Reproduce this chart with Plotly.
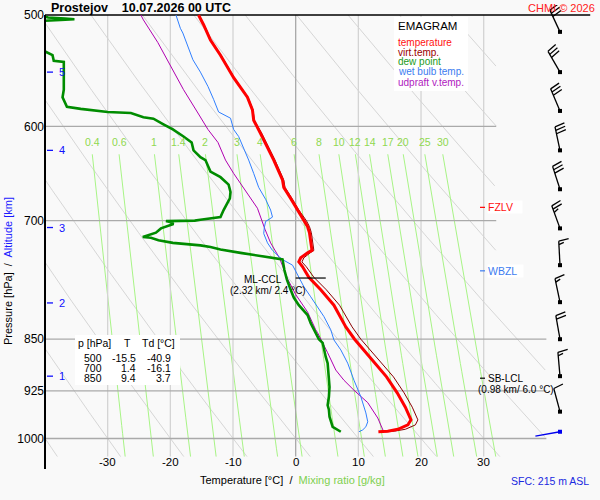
import numpy as np
import plotly.graph_objects as go

# ---- sounding values (p in hPa, temperatures in degC) ----
t_p = [500, 508, 521, 534, 554, 572, 584, 594, 607, 621, 634, 655, 663, 675, 688, 700,
       707, 714, 726, 735, 738, 744, 749, 755, 768, 784, 804, 833, 850, 879, 904, 928,
       950, 970, 978, 985, 988, 989]
t_val = [-15.5, -14.7, -13.6, -12.0, -9.9, -7.7, -6.9, -6.7, -5.6, -4.5, -3.5, -2.1, -1.9,
         -0.8, 0.3, 1.4, 1.9, 2.2, 2.4, 2.6, 1.9, 0.8, 0.5, 1.1, 2.1, 4.0, 6.1, 8.0, 9.4,
         12.2, 14.5, 16.2, 17.5, 18.4, 17.9, 16.3, 14.7, 13.2]
tv_val = [-15.4, -14.6, -13.5, -11.9, -9.8, -7.6, -6.8, -6.6, -5.4, -4.3, -3.3, -1.9, -1.7,
          -0.6, 0.5, 1.7, 2.2, 2.5, 2.7, 2.9, 2.3, 1.3, 1.0, 1.7, 2.9, 4.9, 7.0, 9.0, 10.4,
          13.2, 15.6, 17.3, 18.6, 19.5, 19.1, 17.5, 15.8, 14.3]

td_p = [500, 502, 503, 503.5, 504, 506, 515, 527, 531, 534, 539, 540, 565, 572, 581, 583,
        586, 587, 591, 592.5, 598, 603, 610, 616, 624, 631, 634, 646, 652, 660, 668, 675,
        688, 696, 699, 700, 700.6, 702, 704, 709, 714, 719, 720, 723, 726, 729, 731, 734,
        738, 743, 746, 759, 771, 784, 794, 804, 817, 828, 837, 847, 850, 855, 865, 875,
        884, 909, 919, 934, 947, 954, 965, 981, 986, 989]
td_val = [-40.9, -39.5, -36.8, -35.3, -37.5, -44.0, -47.0, -42.0, -39.9, -38.8, -38.6, -37.0,
          -37.0, -37.2, -36.5, -34.3, -30.0, -26.3, -24.3, -22.7, -21.1, -19.6, -17.9, -16.6,
          -16.3, -15.2, -14.4, -13.6, -12.0, -10.7, -10.4, -10.5, -11.5, -12.0, -15.2, -16.1,
          -20.7, -19.9, -19.5, -21.5, -22.3, -24.4, -23.1, -21.9, -19.6, -15.2, -13.6, -12.0,
          -8.8, -4.5, -2.1, -1.8, -1.4, -0.8, -0.3, 0.5, 1.9, 2.4, 2.9, 3.5, 3.7, 4.3, 4.5,
          4.8, 5.1, 5.3, 5.4, 5.3, 5.1, 5.3, 5.4, 5.9, 6.7, 7.2]

tw_p = [500, 511, 515, 527, 538, 549, 562, 574, 586, 592, 603, 610, 621, 634, 648, 663, 676,
        688, 696, 701, 708, 715, 726, 735, 743, 747, 753, 768, 780, 793, 806, 819, 837, 851,
        865, 884, 909, 934, 959, 973, 981, 986, 989]
tw_val = [-19.1, -18.4, -18.0, -17.2, -16.4, -15.2, -14.0, -13.1, -12.3, -10.4, -9.9, -9.1,
          -8.3, -7.5, -6.7, -5.9, -4.8, -4.0, -3.7, -4.8, -5.0, -5.1, -4.5, -3.7, -2.6, -1.9,
          -0.5, 0.5, 1.3, 2.4, 3.5, 4.5, 5.6, 6.1, 7.2, 8.3, 9.3, 10.4, 11.2, 11.5, 11.2,
          10.7, 10.1]

up_p = [500, 504, 523, 544, 565, 587, 603, 616, 634, 648, 669, 686, 710, 726, 744, 770, 790,
        813, 837, 841, 869, 894, 909, 924, 943, 967, 988]
up_val = [-24.7, -24.3, -22.0, -19.9, -17.9, -15.6, -14.0, -12.4, -11.2, -9.9, -7.7, -6.1,
          -4.9, -4.0, -2.6, -1.3, 0.0, 1.9, 3.2, 3.5, 5.1, 6.4, 7.7, 9.3, 11.5, 13.1, 14.0]

wind_p = [514, 549, 585, 624, 665, 709, 753, 800, 850, 903, 957]
wind_dir = [335, 330, 337, 348, 342, 340, 357, 348, 350, 355, 345]
wind_kt = [30, 30, 30, 30, 30, 25, 15, 15, 20, 15, 10]
sfc_p, sfc_dir, sfc_kt = 989, 260, 3

alt_km = [1, 2, 3, 4, 5]
alt_p = [903, 801, 708, 624, 549]

p_grid = [500, 600, 700, 850, 925, 1000]
t_grid = [-30, -20, -10, 0, 10, 20, 30]
mix_ratio = [0.4, 0.6, 1, 1.4, 2, 3, 4, 6, 8, 10, 12, 14, 17, 20, 25, 30]
theta_c = list(range(-40, 130, 10))

table_p = [500, 700, 850]
table_t = [-15.5, 1.4, 9.4]
table_td = [-40.9, -16.1, 3.7]

fzlv_p, wbzl_p = 685, 760
lcl_p, ccl_p, ccl_t = 906, 769, 2.4

# ---- geometry ----
W, H = 600, 500
ML, MT, MR, MB = 45, 5, 0, 30
PX_DEG = 6.267
PX_LN = 611.0
Y500 = 15
T_LEFT = -40.0
T_RIGHT = T_LEFT + (W - ML - MR) / PX_DEG
P_TOP = 500 * np.exp((MT - Y500) / PX_LN)
P_BOT = 500 * np.exp((H - MB - Y500) / PX_LN)


def to_data(xp, yp):
    xp, yp = np.asarray(xp, float), np.asarray(yp, float)
    return T_LEFT + (xp - ML) / PX_DEG, 500 * np.exp((yp - Y500) / PX_LN)


def y_px(p):
    return Y500 + PX_LN * np.log(p / 500.0)


def fx(xp):
    return (xp - ML) / (W - ML - MR)


def fy(yp):
    return (H - MB - yp) / (H - MT - MB)


FONT = "Liberation Sans, Arial, sans-serif"
fig = go.Figure()


def add_line(x, y, color, width):
    x = [None if (v is None or np.isnan(v)) else float(v) for v in x]
    y = [None if v is None else float(v) for v in y]
    fig.add_trace(go.Scatter(x=x, y=y, mode="lines", line=dict(color=color, width=width),
                             hoverinfo="skip", showlegend=False))


# dry adiabats
xs, ys = [], []
pp = np.geomspace(500, 1030, 200)
lim = np.where(pp < 815, 32, 40)
for th in theta_c:
    tt = (th + 273.15) * (pp / 1000.0) ** 0.2857 - 273.15
    tt = np.where(tt <= lim, tt, np.nan)
    xs += list(tt) + [None]
    ys += list(pp) + [None]
add_line(xs, ys, "#d6d6d6", 1)

# saturation mixing ratio lines
xs, ys = [], []
pm = np.geomspace(628, 1030, 40)
mix_lab_t = []
for w in mix_ratio:
    lne = np.log(w * pm / (622.0 + w) / 6.112)
    tt = 243.5 * lne / (17.67 - lne)
    xs += list(tt) + [None]
    ys += list(pm) + [None]
    mix_lab_t.append(tt[0])
add_line(xs, ys, "#a8f486", 1)

# isotherms
for t in t_grid:
    add_line([t, t], [500, 1030], "#a8a8a8" if t == 0 else "#d4d4d4", 1.3)

# isobars
for p in p_grid[1:]:
    add_line([T_LEFT, 32 if p < 800 else 40], [p, p], "#aaaaaa", 1.3)
add_line([T_LEFT, 47], [500, 500], "black", 1.6)

# profiles
add_line(tv_val, t_p, "#8b0000", 1)
add_line(up_val, up_p, "#b000b0", 1)
add_line(tw_val, tw_p, "#2f7fff", 1)
add_line(td_val, td_p, "#008c00", 2.6)
add_line(t_val, t_p, "#ff0000", 3)

# CCL marker, level dashes
add_line([ccl_t - 2.4, ccl_t + 2.4], [ccl_p, ccl_p], "black", 1.2)
dx = to_data([480, 485], [0, 0])[0]
add_line(dx, [fzlv_p, fzlv_p], "#ff0000", 1.2)
add_line(dx, [wbzl_p, wbzl_p], "#3c7cf0", 1.2)
add_line(dx, [lcl_p, lcl_p], "black", 1.2)

# altitude dashes
ax_ = to_data([47, 53], [0, 0])[0]
xs, ys = [], []
for p in alt_p:
    xs += list(ax_) + [None]
    ys += [p, p, None]
add_line(xs, ys, "#1010ff", 1.3)


# wind barbs
def barb(p, wdir, spd, staff=24.0):
    x0, y0 = 560.0, y_px(p)
    a = np.radians(wdir)
    ux, uy = np.sin(a), -np.cos(a)
    qx, qy = -uy, ux
    segs = [([x0, x0 + ux * staff], [y0, y0 + uy * staff])]
    n_full, half = int(spd // 10), (spd % 10) >= 5
    s = staff
    for i in range(n_full + int(half)):
        ln = 10.0 if i < n_full else 5.0
        bx, by = x0 + ux * s, y0 + uy * s
        segs.append(([bx, bx + qx * ln + ux * 2], [by, by + qy * ln + uy * 2]))
        s -= 3.5
    bxs, bys = [], []
    for sx, sy in segs:
        tx, tp = to_data(sx, sy)
        bxs += list(tx) + [None]
        bys += list(tp) + [None]
    return bxs, bys


xs, ys = [], []
for p, d, s in zip(wind_p, wind_dir, wind_kt):
    a, b = barb(p, d, s)
    xs += a
    ys += b
add_line(xs, ys, "black", 1.3)
dot_t = to_data([560], [0])[0][0]
fig.add_trace(go.Scatter(x=[dot_t] * len(wind_p), y=wind_p, mode="markers",
                         marker=dict(symbol="square", size=4, color="black"),
                         hoverinfo="skip", showlegend=False))
a, b = barb(sfc_p, sfc_dir, sfc_kt, staff=25)
add_line(a, b, "#0000ee", 1.3)
fig.add_trace(go.Scatter(x=[dot_t], y=[sfc_p], mode="markers",
                         marker=dict(symbol="square", size=4, color="#0000ee"),
                         hoverinfo="skip", showlegend=False))

ann = []


def text(xp, yp, s, size=11, color="black", anchor="left", bg=None, bold=False, **kw):
    d = dict(x=fx(xp), y=fy(yp), xref="paper", yref="paper", text=("<b>%s</b>" % s) if bold else s,
             showarrow=False, xanchor=anchor, yanchor="middle",
             font=dict(size=size, color=color, family=FONT), borderpad=0)
    if bg:
        d["bgcolor"] = bg
    d.update(kw)
    ann.append(d)


text(50, 8, "Prostejov\u00a0\u00a0\u00a0 10.07.2026 00 UTC", size=12.5, bold=True)
text(596, 8, "CHMI \u00a9 2026", size=11, color="#ff2020", anchor="right")

# temperature tick labels
for t in t_grid:
    ann.append(dict(x=t, y=fy(462), xref="x", yref="paper", text=str(t), showarrow=False,
                    xanchor="center", yanchor="middle", font=dict(size=11.5, color="black", family=FONT)))
# mixing ratio labels
for w, t in zip(mix_ratio, mix_lab_t):
    ann.append(dict(x=t, y=fy(142), xref="x", yref="paper", text="%g" % w, showarrow=False,
                    xanchor="center", yanchor="middle", font=dict(size=10.5, color="#8fd84f", family=FONT)))
# altitude labels
for k, p in zip(alt_km, alt_p):
    ann.append(dict(x=fx(57), y=np.log10(p), xref="paper", yref="y", text=str(k), showarrow=False,
                    xanchor="left", yanchor="middle", font=dict(size=11, color="#1010ff", family=FONT)))

text(292, 480, "Temperature [\u00b0C]\u00a0 /\u00a0 <span style='color:#7fd04f'>Mixing ratio [g/kg]</span>",
     size=11, anchor="center")
ann.append(dict(x=fx(8), y=fy(271), xref="paper", yref="paper", textangle=-90, showarrow=False,
                text="Pressure [hPa]\u00a0 /\u00a0 <span style='color:#1a1aff'>Altitude [km]</span>",
                xanchor="center", yanchor="middle", font=dict(size=11, color="black", family=FONT)))
text(590, 481, "SFC: 215 m ASL", size=10.5, color="#1a2ae0", anchor="right")

# legend box
text(397, 26, "EMAGRAM", size=11.5)
leg = [("temperature", "#ff1010"), ("virt.temp.", "#9a0000"), ("dew point", "#1a9a1a"),
       ("wet bulb temp.", "#3c7cf0"), ("udpraft v.temp.", "#b020c0")]
for i, (s, c) in enumerate(leg):
    text(397, 42 + 10 * i, s, size=10, color=c)

# table
text(94, 343, "p [hPa]", size=10.5, anchor="center")
text(127, 343, "T", size=10.5, anchor="center")
text(158, 343, "Td [\u00b0C]", size=10.5, anchor="center")
for i, (p, t, td) in enumerate(zip(table_p, table_t, table_td)):
    yy = 358 + 10 * i
    text(103, yy, str(p), size=10.5, anchor="right")
    text(137, yy, "%.1f" % t, size=10.5, anchor="right")
    text(172, yy, "%.1f" % td, size=10.5, anchor="right")

# level labels
text(283, 279, "ML-CCL", size=10, anchor="right")
text(268, 290, "(2.32 km/ 2.4 \u00b0C)", size=10, anchor="center")
text(487, 207, "FZLV\u00a0\u00a0\u00a0", size=10.5, color="#ff1010", bg="white")
text(487, 271, "WBZL\u00a0\u00a0", size=10.5, color="#3c7cf0", bg="white")
text(487, 378, "SB-LCL", size=10, anchor="left")
text(477, 390, "(0.98 km/ 6.0 \u00b0C)", size=10, anchor="left")

shapes = [
    dict(type="rect", xref="paper", yref="paper", x0=fx(394), x1=fx(468), y0=fy(17), y1=fy(91),
         fillcolor="white", line=dict(width=0), layer="above"),
    dict(type="rect", xref="paper", yref="paper", x0=fx(75), x1=fx(180), y0=fy(335), y1=fy(385),
         fillcolor="white", line=dict(width=0), layer="above"),
    dict(type="line", xref="paper", yref="paper", x0=0, x1=0, y0=fy(15), y1=fy(469),
         line=dict(color="black", width=2)),
]

fig.update_layout(
    width=W, height=H,
    margin=dict(l=ML, r=MR, t=MT, b=MB),
    paper_bgcolor="#f9f9f9", plot_bgcolor="#f9f9f9",
    showlegend=False, hovermode=False,
    font=dict(family=FONT, size=12, color="black"),
    xaxis=dict(range=[T_LEFT, T_RIGHT], showgrid=False, zeroline=False, showticklabels=False,
               showline=False, fixedrange=True),
    yaxis=dict(type="log", range=[np.log10(P_BOT), np.log10(P_TOP)], tickmode="array",
               tickvals=p_grid, ticktext=[str(p) for p in p_grid], showgrid=False, zeroline=False,
               showline=False, ticks="", tickfont=dict(size=12, color="black", family=FONT),
               fixedrange=True),
    annotations=ann,
    shapes=shapes,
)

# the page body has a default 8px margin; drop it so the figure sits at the window corner
fig.write_html("out.html", config={"displayModeBar": False},
               post_script="document.body.style.margin='0';")
